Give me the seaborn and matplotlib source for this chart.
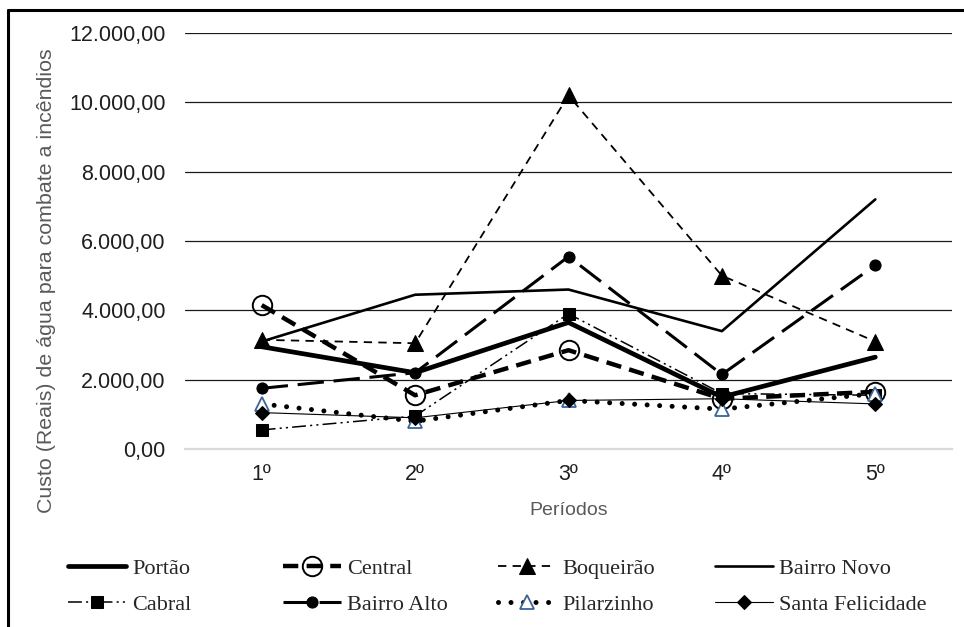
import matplotlib
matplotlib.use("Agg")
import matplotlib.pyplot as plt
from matplotlib.lines import Line2D
from matplotlib.ticker import FuncFormatter
import numpy as np
import pandas as pd
import seaborn as sns

# Periods and water cost (R$) for each fire-station district
periodos = ["1º", "2º", "3º", "4º", "5º"]
portao = [2950, 2200, 3650, 1500, 2650]
central = [4150, 1550, 2850, 1450, 1650]
boqueirao = [3150, 3050, 10200, 5000, 3100]
bairro_novo = [3100, 4450, 4600, 3400, 7200]
cabral = [550, 950, 3900, 1600, 1550]
bairro_alto = [1750, 2200, 5550, 2150, 5300]
pilarzinho = [1300, 800, 1400, 1150, 1600]
santa_felicidade = [1050, 900, 1400, 1450, 1300]

nomes = ["Portão", "Central", "Boqueirão", "Bairro Novo",
         "Cabral", "Bairro Alto", "Pilarzinho", "Santa Felicidade"]
valores = [portao, central, boqueirao, bairro_novo,
           cabral, bairro_alto, pilarzinho, santa_felicidade]

df = pd.DataFrame({
    "bairro": np.repeat(nomes, len(periodos)),
    "pos": np.tile(np.arange(len(periodos)), len(nomes)),
    "custo": np.concatenate(valores),
})

sns.set_theme(style="white")
plt.rcParams["font.family"] = ["Liberation Sans", "DejaVu Sans"]
plt.rcParams["lines.scale_dashes"] = False

# line / marker styling per series
estilos = {
    "Portão": dict(lw=3.4, linestyle="-"),
    "Central": dict(lw=3.2, linestyle=(0, (11, 6)), marker="o", ms=14,
                    mfc="none", mec="black", mew=1.4),
    "Boqueirão": dict(lw=1.3, linestyle=(0, (6, 4.5)), marker="^", ms=11,
                      mfc="black", mec="black"),
    "Bairro Novo": dict(lw=1.9, linestyle="-"),
    "Cabral": dict(lw=1.1, linestyle=(0, (10, 3, 1.5, 3, 1.5, 3)), marker="s",
                   ms=8, mfc="black", mec="black"),
    "Bairro Alto": dict(lw=2.2, linestyle=(0, (19, 7)), marker="o", ms=8,
                        mfc="black", mec="black"),
    "Pilarzinho": dict(lw=3.6, linestyle=(0, (0.01, 9)), dash_capstyle="round",
                       marker="^", ms=9.5, mfc="white", mec="#3d6496", mew=1.3),
    "Santa Felicidade": dict(lw=0.8, linestyle="-", marker="D", ms=7.5,
                             mfc="black", mec="black"),
}

fig = plt.figure(figsize=(9.64, 6.27), dpi=100)
ax = fig.add_axes([185 / 964, 1 - 449 / 627, (952 - 185) / 964, (449 - 33) / 627])

for nome in nomes:
    sub = df[df["bairro"] == nome]
    sns.lineplot(data=sub, x="pos", y="custo", ax=ax, color="black",
                 label=nome, **estilos[nome])

ax.set_xlim(-0.5, len(periodos) - 0.5)
ax.set_ylim(0, 12000)
ax.set_xticks(range(len(periodos)))
ax.set_xticklabels(periodos)
ax.set_yticks(np.arange(0, 12001, 2000))


def fmt_br(v, _pos):
    s = f"{v:,.2f}"
    return s.replace(",", "X").replace(".", ",").replace("X", ".")


ax.yaxis.set_major_formatter(FuncFormatter(fmt_br))
ax.tick_params(axis="both", length=0, labelsize=15.5, colors="#1f1f1f")
ax.tick_params(axis="y", pad=14)
ax.tick_params(axis="x", pad=11)

ax.yaxis.grid(True, color="#1a1a1a", lw=0.9)
ax.xaxis.grid(False)
ax.set_axisbelow(True)
for s in ["top", "right", "left"]:
    ax.spines[s].set_visible(False)
ax.spines["bottom"].set_color("#d9d9d9")
ax.spines["bottom"].set_linewidth(1.6)
ax.yaxis.get_gridlines()[0].set_visible(False)

ax.set_ylabel("")
ax.set_xlabel("Períodos", fontsize=14, color="#595959", labelpad=12)
fig.text(47 / 964, 1 - 281 / 627, "Custo (Reais) de água para combate a incêndios",
         rotation=90, ha="center", va="center", fontsize=15.4, color="#595959")

# legend: four columns of two entries each
handles, labels = ax.get_legend_handles_labels()
hmap = dict(zip(labels, handles))
if ax.get_legend() is not None:
    ax.get_legend().remove()
colunas = [("Portão", "Cabral"), ("Central", "Bairro Alto"),
           ("Boqueirão", "Pilarzinho"), ("Bairro Novo", "Santa Felicidade")]
col_x = [68, 283, 498, 715]
for xpx, par in zip(col_x, colunas):
    fig.legend([hmap[p] for p in par], list(par), loc="upper left",
               bbox_to_anchor=(xpx / 964, 1 - 558 / 627), frameon=False,
               prop={"family": "Liberation Serif", "size": 16},
               handlelength=2.6, handletextpad=0.3, labelspacing=0.7,
               borderpad=0, borderaxespad=0, numpoints=1)

# outer frame
fig.add_artist(Line2D([8 / 964, 8 / 964], [0, 1 - 10 / 627],
                      transform=fig.transFigure, color="black", lw=2.2))
fig.add_artist(Line2D([8 / 964, 1], [1 - 10 / 627, 1 - 10 / 627],
                      transform=fig.transFigure, color="black", lw=2.2))

fig.savefig("out.png", dpi=100)
